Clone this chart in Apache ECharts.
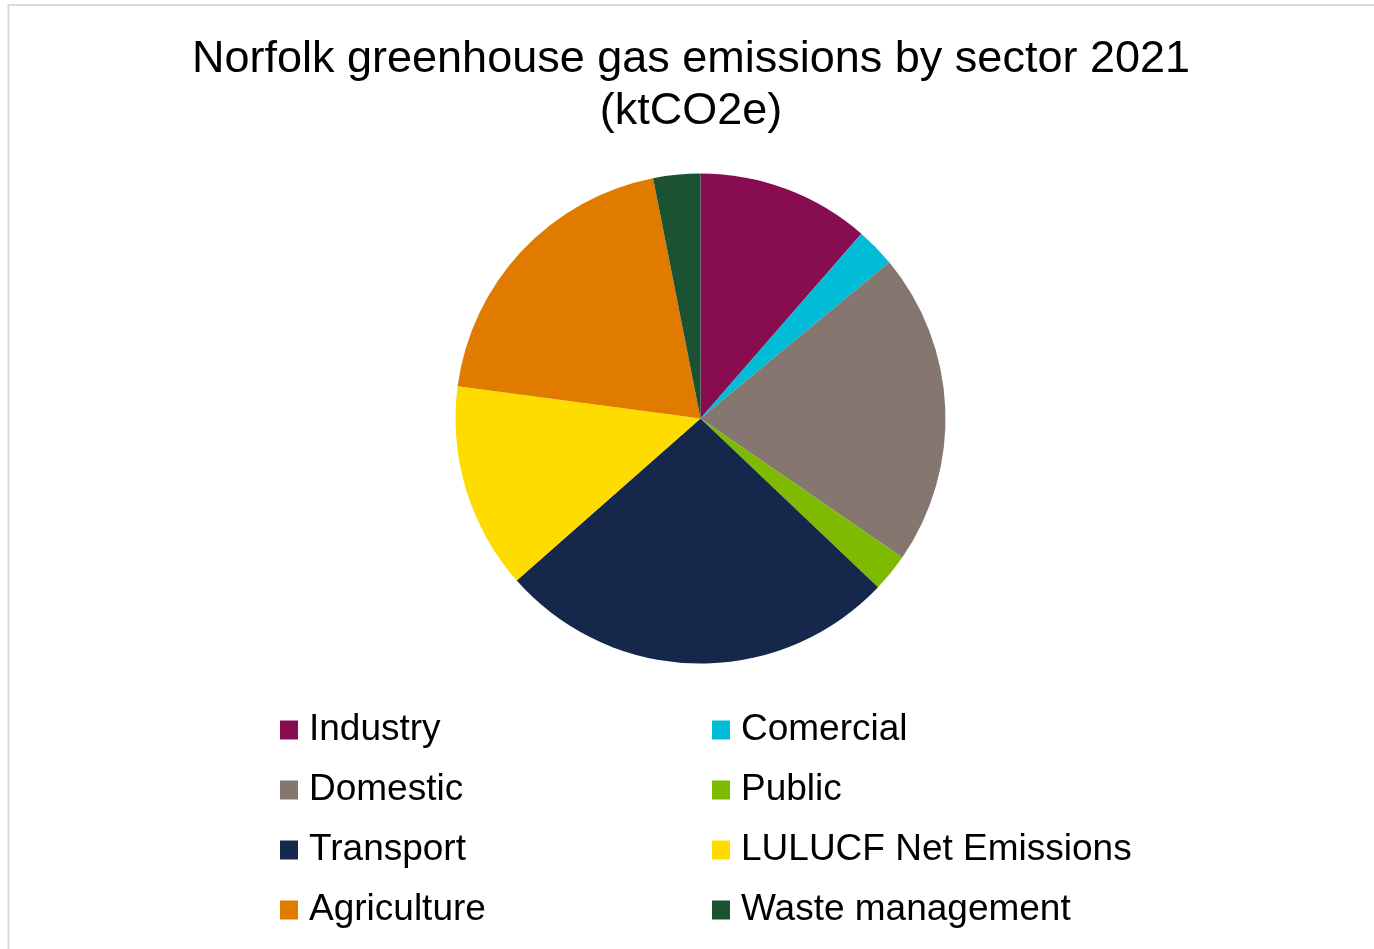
<!DOCTYPE html>
<html>
<head>
<meta charset="utf-8">
<title>Norfolk greenhouse gas emissions by sector 2021</title>
<script src="https://cdn.jsdelivr.net/npm/echarts@6/dist/echarts.min.js"></script>
<style>
  html, body { margin: 0; padding: 0; background: #ffffff; }
  #chart { width: 1374px; height: 949px; }
</style>
</head>
<body>
<div id="chart"></div>
<script>
// Sectors in drawing order (clockwise from 12 o'clock)
const sectors = ['Industry', 'Comercial', 'Domestic', 'Public', 'Transport', 'LULUCF Net Emissions', 'Agriculture', 'Waste management'];
// Share of total emissions per sector (%)
const shares = [11.4, 2.6, 20.6, 2.5, 26.4, 13.6, 19.8, 3.1];
const sectorColors = ['#870D50', '#00BCD6', '#857670', '#7DBA00', '#15284B', '#FFDC00', '#E07B00', '#1B5232'];

// Legend columns
const legendLeft = ['Industry', 'Domestic', 'Transport', 'Agriculture'];
const legendRight = ['Comercial', 'Public', 'LULUCF Net Emissions', 'Waste management'];

const font = '"Liberation Sans", Arial, sans-serif';

const legendBase = {
  orient: 'vertical',
  top: 705,
  icon: 'rect',
  itemWidth: 18,
  itemHeight: 19,
  itemGap: 20,
  selectedMode: false,
  textStyle: {
    fontFamily: font,
    fontSize: 37,
    lineHeight: 40,
    color: '#000000',
    padding: [0, 0, 0, 6]
  }
};

const chart = echarts.init(document.getElementById('chart'), null, { renderer: 'canvas' });
chart.setOption({
  animation: false,
  backgroundColor: '#ffffff',
  color: sectorColors,
  title: {
    text: 'Norfolk greenhouse gas emissions by sector 2021\n(ktCO2e)',
    left: 686,
    top: 29,
    textAlign: 'center',
    textStyle: {
      fontFamily: font,
      fontSize: 45,
      fontWeight: 'normal',
      lineHeight: 52,
      color: '#000000'
    }
  },
  legend: [
    Object.assign({}, legendBase, { left: 275, data: legendLeft }),
    Object.assign({}, legendBase, { left: 707, data: legendRight })
  ],
  graphic: [{
    type: 'polyline',
    silent: true,
    shape: { points: [[8.5, 960], [8.5, 5], [1390, 5]] },
    style: { stroke: '#d9d9d9', lineWidth: 2, fill: null }
  }],
  series: [{
    type: 'pie',
    center: [700.5, 418.5],
    radius: 245,
    startAngle: 90,
    clockwise: true,
    label: { show: false },
    labelLine: { show: false },
    emphasis: { disabled: true },
    itemStyle: { borderWidth: 0 },
    data: sectors.map((name, i) => ({ name: name, value: shares[i] }))
  }]
});
</script>
</body>
</html>
